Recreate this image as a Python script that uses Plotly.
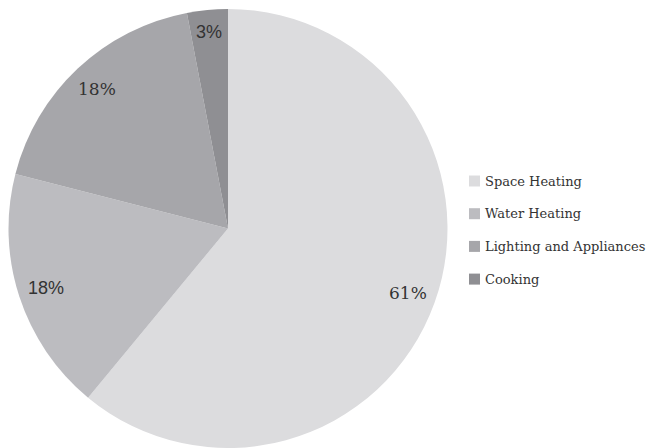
import math
import plotly.graph_objects as go

labels = ["Space Heating", "Water Heating", "Lighting and Appliances", "Cooking"]
values = [61, 18, 18, 3]
pct_text = ["61%", "18%", "18%", "3%"]
colors = ["#dcdcde", "#bcbcc0", "#a6a6aa", "#8f8f93"]
label_fonts = ["DejaVu Serif", "Liberation Sans", "DejaVu Serif", "Liberation Sans"]
label_sizes = [17, 18, 17, 18]

W, H = 656, 448
# pie domain in pixels
left, right, top = 8, 448, 9
cx = (left + right) / 2
r = min(right - left, H - top) / 2
cy = H - r

fig = go.Figure(go.Pie(
    labels=labels, values=values, sort=False, direction="clockwise", rotation=0,
    marker=dict(colors=colors, line=dict(width=0)),
    textinfo="none", hoverinfo="label+percent", showlegend=False,
    domain=dict(x=[left / W, right / W], y=[0, 1 - top / H]),
))

total = sum(values)
cum = 0
radial = [0.87, 0.87, 0.87, 0.9]
for v, t, fam, sz, k in zip(values, pct_text, label_fonts, label_sizes, radial):
    mid = (cum + v / 2) / total * 2 * math.pi
    cum += v
    px = cx + k * r * math.sin(mid)
    py = cy - k * r * math.cos(mid)
    fig.add_annotation(x=px / W, y=1 - py / H, xref="paper", yref="paper",
                       text=t, showarrow=False, xanchor="center", yanchor="middle",
                       font=dict(family=fam, size=sz, color="#333333"))

# legend
lx, ly0, gap, sq = 469, 181, 32.7, 11
for i, (lab, col) in enumerate(zip(labels, colors)):
    yc = ly0 + i * gap
    fig.add_shape(type="rect", xref="paper", yref="paper",
                  x0=lx / W, x1=(lx + sq) / W,
                  y0=1 - (yc - sq / 2) / H, y1=1 - (yc + sq / 2) / H,
                  fillcolor=col, line=dict(width=0))
    fig.add_annotation(x=(lx + sq + 3) / W, y=1 - yc / H, xref="paper", yref="paper",
                       text=lab, showarrow=False, xanchor="left", yanchor="middle",
                       font=dict(family="DejaVu Serif", size=13, color="#333333"))

fig.update_layout(width=W, height=H, margin=dict(l=0, r=0, t=0, b=0),
                  paper_bgcolor="white", plot_bgcolor="white")
fig.write_html("out.html")
